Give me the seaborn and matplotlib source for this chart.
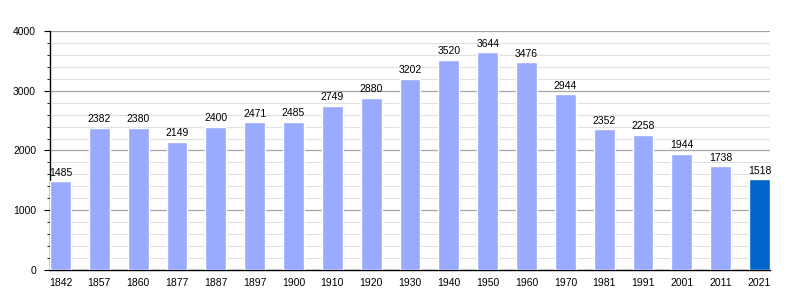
import matplotlib
matplotlib.use("Agg")
import matplotlib.pyplot as plt
import seaborn as sns
import pandas as pd
from matplotlib.ticker import MultipleLocator

years = ["1842", "1857", "1860", "1877", "1887", "1897", "1900", "1910", "1920", "1930",
         "1940", "1950", "1960", "1970", "1981", "1991", "2001", "2011", "2021"]
population = [1485, 2382, 2380, 2149, 2400, 2471, 2485, 2749, 2880, 3202,
              3520, 3644, 3476, 2944, 2352, 2258, 1944, 1738, 1518]

sns.set_style("white")
plt.rcParams['font.family'] = ['Liberation Sans', 'DejaVu Sans']
plt.rcParams['text.color'] = 'black'
plt.rcParams['xtick.color'] = 'black'
plt.rcParams['ytick.color'] = 'black'

df = pd.DataFrame({"year": years, "pop": population})
colors = ["#99aaff"] * (len(years) - 1) + ["#0066cc"]

fig = plt.figure(figsize=(8, 3), dpi=100)
ax = fig.add_axes([0.0625, 0.1, 0.9, 0.7967])
sns.barplot(data=df, x="year", y="pop", hue="year", palette=colors, legend=False,
            width=0.54, saturation=1, ax=ax, zorder=3)

ax.set_xlim(-0.27, len(years) - 1 + 0.27)
ax.set_ylim(0, 4000)
ax.yaxis.set_major_locator(MultipleLocator(1000))
ax.yaxis.set_minor_locator(MultipleLocator(200))
ax.grid(axis="y", which="major", color="#a6a6a6", linewidth=0.9, zorder=0)
ax.grid(axis="y", which="minor", color="#e0e0e0", linewidth=0.8, zorder=0)
ax.set_axisbelow(True)
for s in ["top", "right"]:
    ax.spines[s].set_visible(False)
ax.spines["left"].set_color("black")
ax.spines["bottom"].set_color("black")
ax.spines["left"].set_linewidth(1)
ax.spines["bottom"].set_linewidth(1)
ax.tick_params(axis="y", which="major", left=True, length=4, width=0.8, labelsize=7.5,
               pad=6, labelcolor="black")
ax.tick_params(axis="y", which="minor", left=True, length=2, width=0.6)
ax.tick_params(axis="x", bottom=False, labelsize=7.5, pad=2, labelcolor="black")
ax.set_xlabel("")
ax.set_ylabel("")

for i, v in enumerate(population):
    ax.text(i, v + 60, str(v), ha="center", va="bottom", fontsize=7.5, color="black", zorder=4)

fig.savefig("out.png", dpi=100)
